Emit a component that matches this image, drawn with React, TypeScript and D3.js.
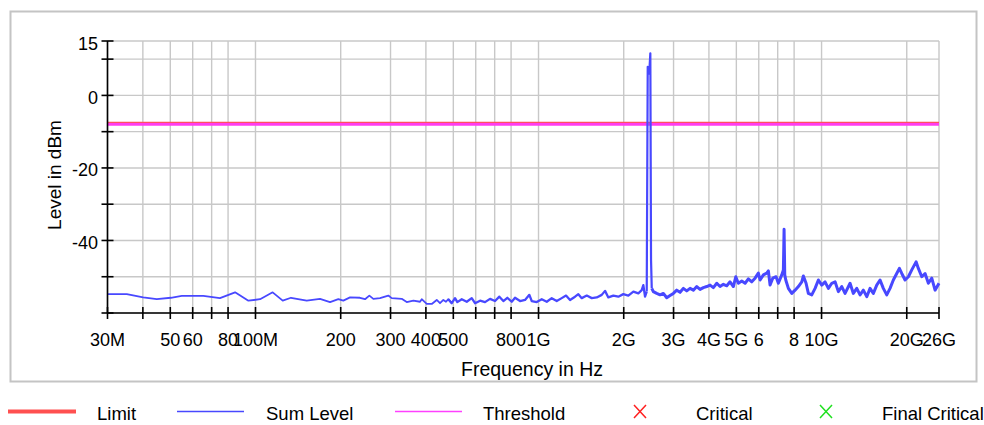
import React from "react";
import * as d3 from "d3";

// ---- data ----
const sumLevelFreqMHz = [
  30, 35.1, 40.1, 44.8, 50.2, 54.9, 65.4, 74.9, 84.7, 94.4, 103.8, 115, 124.8, 133.5, 151.7, 169,
  183.4, 196.2, 204.3, 215.8, 234.0, 243.8, 252.5, 260.9, 275.4, 294.6, 302.9, 328.6, 342.2, 361.2,
  381.4, 386.7, 402.7, 419.5, 436.9, 448.7, 461.0, 471.2, 480.1, 493.6, 507.0, 516.6, 535.5, 557.7,
  580.8, 596.6, 621.4, 647.1, 674.0, 702.1, 727.1, 751.1, 775.9, 804.3, 826.0, 860.4, 896.2, 928.1,
  946.2, 985.6, 1026.6, 1069.1, 1113.5, 1159.8, 1207.8, 1250.8, 1292.4, 1345.9, 1382.6, 1421.4,
  1480.5, 1542.1, 1606.0, 1672.6, 1718.2, 1764.7, 1838.0, 1914.4, 1993.6, 2076.5, 2162.9, 2252.5,
  2315.5, 2346.1, 2378.7, 2411.8, 2431.3, 2447.6, 2461.1, 2483.4, 2497.8, 2512.2, 2544.8, 2616.1,
  2687.5, 2760.9, 2838.3, 2915.2, 2994.8, 3078.7, 3163, 3248.6, 3339.6, 3430.8, 3524.5, 3623.3,
  3721.4, 3822.9, 3930.1, 4037.5, 4146.8, 4263.9, 4379.3, 4498.9, 4625, 4750.2, 4879.9, 4976.3,
  5082.9, 5225.3, 5367.9, 5513.2, 5667.7, 5822.5, 5980.1, 6064.7, 6229, 6403.6, 6488.2, 6578.5,
  6723.9, 6907.5, 7037.5, 7234.7, 7330.3, 7372.6, 7413.1, 7474.9, 7634.9, 7849, 8061.5, 8281.6,
  8513.6, 8626, 8816.8, 8982.8, 9234.5, 9486.6, 9745.6, 10018, 10290, 10571, 10867, 11163, 11465,
  11786, 12107, 12611, 12953, 13316, 13679, 14052, 14446, 14837, 15241, 15668, 16095, 16531, 16996,
  17456, 17932, 18435, 18836, 19207, 19728, 20266, 20834, 21577, 21983, 22599, 23215, 23848, 24516,
  25180, 26000,
];
const sumLevelDbm = [
  -54.8, -54.8, -55.7, -56.2, -55.8, -55.3, -55.3, -55.9, -54.3, -56.6, -56.2, -54.3, -56.6, -55.8, -56.6, -56.1,
  -57.0, -56.2, -56.6, -55.7, -55.8, -56.2, -55.2, -56.1, -55.9, -55.2, -55.9, -56.1, -57.0, -56.6,
  -56.9, -56.2, -57.5, -57.5, -56.4, -57.3, -56.4, -56.9, -56.2, -57.3, -55.9, -57.0, -56.2, -56.9,
  -55.9, -57.3, -56.6, -57.0, -56.1, -56.7, -55.5, -56.7, -55.8, -56.9, -55.8, -56.7, -56.4, -55.0,
  -56.7, -57.0, -56.2, -56.9, -55.9, -56.7, -55.9, -55.2, -56.4, -55.5, -54.8, -55.9,
  -55.2, -55.9, -55.7, -55.0, -53.9, -55.7, -55.2, -55.5, -54.8, -55.2, -54.1, -54.6,
  -53.7, -52.3, -55.5, -54.1, 7.9, 7.0, 6.0, 11.6, -45.4, -53.2, -54.1, -54.6,
  -55.0, -54.6, -55.8, -55.2, -54.6, -53.7, -54.3, -53.2, -53.9, -53.2, -53.7, -52.7,
  -53.5, -53.0, -52.7, -52.3, -53.0, -51.8, -52.7, -52.1, -52.5, -51.4, -52.7, -50.0,
  -51.8, -51.2, -51.8, -50.6, -51.4, -50.4, -49.0, -50.9, -49.5, -49.0, -48.4, -52.3,
  -50.4, -50.0, -51.8, -49.5, -48.1, -36.9, -49.5, -50.9, -53.2, -54.6, -53.7, -52.7,
  -51.4, -49.8, -51.8, -54.6, -55.0, -53.2, -50.9, -52.3, -51.4, -53.2, -51.8, -51.4, -54.1,
  -52.7, -54.6, -51.8, -54.6, -53.2, -55.0, -53.7, -55.5, -53.2, -54.6, -52.3, -50.9, -53.2, -55.0,
  -53.2, -50.9, -49.1, -47.7, -49.1, -50.9, -50.0, -48.1, -45.9, -47.7, -50.0, -49.1, -51.8, -50.4,
  -53.7, -51.8,
];
const limitDbm = -7.7;
const thresholdDbm = -8.0;
const freqRangeMHz = [30, 26000];
const levelRange = [-60, 15];

const xTickValues = [30, 40, 50, 60, 70, 80, 100, 200, 300, 400, 500, 600, 700, 800, 1000, 2000, 3000, 4000, 5000, 6000, 7000, 8000, 10000, 20000, 26000];
const xTickLabels = ["30M", "", "50", "60", "", "80", "100M", "200", "300", "400", "500", "", "", "800", "1G", "2G", "3G", "4G", "5G", "6", "", "8", "10G", "20G", "26G"];
const yTickValues = [15, 10, 0, -10, -20, -30, -40, -50, -60];
const yTickLabels = ["15", "", "0", "", "-20", "", "-40", "", ""];

const legendNames = ["Limit", "Sum Level", "Threshold", "Critical", "Final Critical"];

export default function App() {
  const W = 984, H = 425;
  const left = 107.5, right = 939, top = 41, bottom = 313;
  const x = d3.scaleLog().domain(freqRangeMHz).range([left, right]);
  const y = d3.scaleLinear().domain(levelRange).range([bottom, top]);
  const pts: [number, number][] = sumLevelFreqMHz.map((f, i) => [f, sumLevelDbm[i]]);
  const line = d3.line<[number, number]>().x((d) => x(d[0])).y((d) => y(d[1]));
  const font = "'Liberation Sans', Arial, sans-serif";
  const grid = "#c8c8c8";
  const blue = "#4848ff";

  // trace pieces drawn with increasing stroke (the dense sweep looks thicker at high frequency)
  const pieces: { from: number; to: number; w: number }[] = [
    { from: 0, to: 500, w: 1.8 },
    { from: 480, to: 2420, w: 2.3 },
    { from: 2400, to: 2520, w: 2.2 },
    { from: 2500, to: 26000, w: 3.0 },
  ];

  const legendY = 411.5;
  const legendTextY = 420;

  return (
    <svg width={W} height={H} style={{ position: "absolute", left: 0, top: 0, background: "#fff" }} fontFamily={font}>
      <rect x={0} y={0} width={W} height={H} fill="#fff" />
      <rect x={10.5} y={11.5} width={966} height={370} fill="#fff" stroke="#c4c4c4" strokeWidth={2} />
      {/* grid */}
      {xTickValues.map((v, i) => (
        <line key={"gx" + i} x1={x(v)} x2={x(v)} y1={top} y2={bottom} stroke={grid} strokeWidth={1.4} />
      ))}
      {yTickValues.map((v, i) => (
        <line key={"gy" + i} x1={left} x2={right} y1={y(v)} y2={y(v)} stroke={grid} strokeWidth={1.4} />
      ))}
      {/* limit & threshold */}
      <line x1={left} x2={right} y1={y(limitDbm)} y2={y(limitDbm)} stroke="#ff5060" strokeWidth={3} />
      <line x1={left} x2={right} y1={y(thresholdDbm)} y2={y(thresholdDbm)} stroke="#ff3cf0" strokeWidth={2.6} />
      {/* sum level */}
      {pieces.map((p, i) => (
        <path
          key={"p" + i}
          d={line(pts.filter((d) => d[0] >= p.from && d[0] <= p.to)) || ""}
          fill="none"
          stroke={blue}
          strokeWidth={p.w}
          strokeLinejoin="round"
        />
      ))}
      {/* axes */}
      <line x1={left} x2={left} y1={top} y2={bottom} stroke="#000" strokeWidth={1.6} />
      <line x1={left} x2={right} y1={bottom} y2={bottom} stroke="#000" strokeWidth={1.6} />
      {yTickValues.map((v, i) => (
        <g key={"ty" + i}>
          <line x1={left - 6} x2={left + 6} y1={y(v)} y2={y(v)} stroke="#000" strokeWidth={1.6} />
          {yTickLabels[i] && (
            <text x={98} y={y(v) + 8.5} fontSize={18} textAnchor="end" fill="#000">
              {yTickLabels[i]}
            </text>
          )}
        </g>
      ))}
      {xTickValues.map((v, i) => (
        <g key={"tx" + i}>
          <line x1={x(v)} x2={x(v)} y1={bottom - 6} y2={bottom + 6} stroke="#000" strokeWidth={1.6} />
          {xTickLabels[i] && (
            <text x={x(v)} y={346} fontSize={18} textAnchor="middle" fill="#000">
              {xTickLabels[i]}
            </text>
          )}
        </g>
      ))}
      <text x={532} y={376} fontSize={19.5} textAnchor="middle" fill="#000">Frequency in Hz</text>
      <text transform="translate(61,175) rotate(-90)" fontSize={19} textAnchor="middle" fill="#000">Level in dBm</text>
      {/* legend */}
      <line x1={8} x2={76} y1={legendY} y2={legendY} stroke="#ff5050" strokeWidth={4} />
      <text x={97} y={legendTextY} fontSize={18.5} fill="#000">{legendNames[0]}</text>
      <line x1={177} x2={244} y1={legendY} y2={legendY} stroke={blue} strokeWidth={1.4} />
      <text x={266} y={legendTextY} fontSize={18.5} fill="#000">{legendNames[1]}</text>
      <line x1={395} x2={462} y1={legendY} y2={legendY} stroke="#ff40ff" strokeWidth={1.4} />
      <text x={483} y={legendTextY} fontSize={18.5} fill="#000">{legendNames[2]}</text>
      <path d={`M${634},${legendY - 6.5}L${646},${legendY + 6.5}M${646},${legendY - 6.5}L${634},${legendY + 6.5}`} stroke="#ff2020" strokeWidth={1.5} />
      <text x={696} y={legendTextY} fontSize={18.5} fill="#000">{legendNames[3]}</text>
      <path d={`M${820},${legendY - 6.5}L${832},${legendY + 6.5}M${832},${legendY - 6.5}L${820},${legendY + 6.5}`} stroke="#20e020" strokeWidth={1.5} />
      <text x={882} y={legendTextY} fontSize={18.5} fill="#000">{legendNames[4]}</text>
    </svg>
  );
}
